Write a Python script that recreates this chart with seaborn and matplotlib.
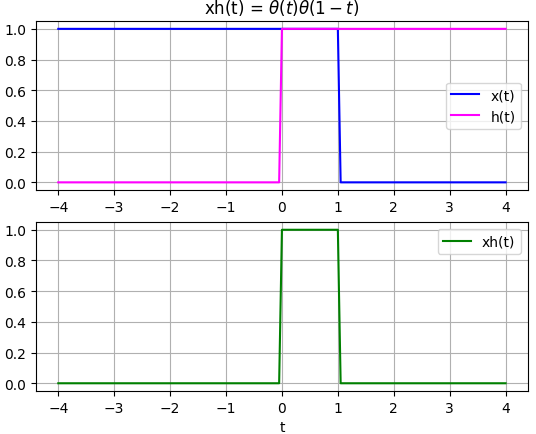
import seaborn as sns
import matplotlib.pyplot as plt

t = [-4, -0.05, 0, 1, 1.05, 4]
x_vals = [1, 1, 1, 1, 0, 0]
h_vals = [0, 0, 1, 1, 1, 1]
xh_vals = [0, 0, 1, 1, 0, 0]

fig, (ax1, ax2) = plt.subplots(2, 1, figsize=(5.36, 4.35), dpi=100)

sns.lineplot(x=t, y=x_vals, ax=ax1, color='blue', label='x(t)')
sns.lineplot(x=t, y=h_vals, ax=ax1, color='magenta', label='h(t)')
ax1.set_title(r'xh(t) = $\theta(t)\theta(1-t)$')
ax1.grid(True)
ax1.legend(loc='center right')

sns.lineplot(x=t, y=xh_vals, ax=ax2, color='green', label='xh(t)')
ax2.grid(True)
ax2.legend(loc='upper right')
ax2.set_xlabel('t')

for ax in (ax1, ax2):
    ax.set_xticks(range(-4, 5))
    ax.set_yticks([0.0, 0.2, 0.4, 0.6, 0.8, 1.0])

fig.subplots_adjust(left=0.067, right=0.985, top=0.949, bottom=0.099, hspace=0.19)
fig.savefig('out.png')
